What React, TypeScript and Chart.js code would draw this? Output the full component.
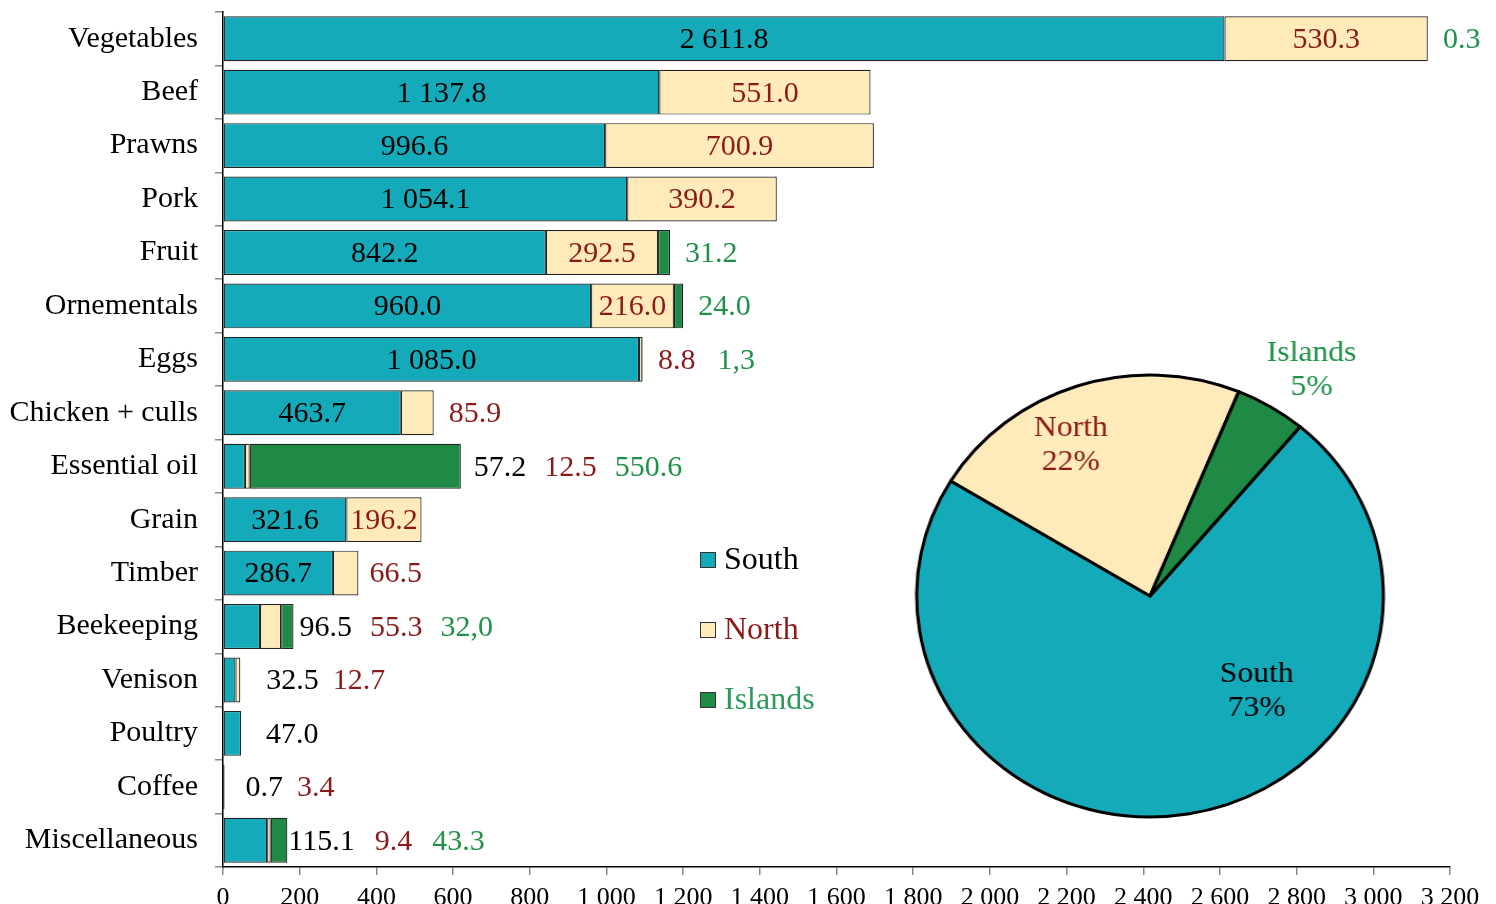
import React, { useEffect, useRef } from 'react';
import { Chart, registerables } from 'chart.js';

Chart.register(...registerables);

// ---------- DATA ----------
const categories = [
  'Vegetables', 'Beef', 'Prawns', 'Pork', 'Fruit', 'Ornementals', 'Eggs',
  'Chicken + culls', 'Essential oil', 'Grain', 'Timber', 'Beekeeping',
  'Venison', 'Poultry', 'Coffee', 'Miscellaneous',
];
const southValues = [2611.8, 1137.8, 996.6, 1054.1, 842.2, 960.0, 1085.0, 463.7, 57.2, 321.6, 286.7, 96.5, 32.5, 47.0, 0.7, 115.1];
const northValues: (number | null)[] = [530.3, 551.0, 700.9, 390.2, 292.5, 216.0, 8.8, 85.9, 12.5, 196.2, 66.5, 55.3, 12.7, null, 3.4, 9.4];
const islandsValues: (number | null)[] = [0.3, null, null, null, 31.2, 24.0, 1.3, null, 550.6, null, null, 32.0, null, null, null, 43.3];
const seriesNames = ['South', 'North', 'Islands'];
// labels printed with a decimal comma in the original
const islandsCommaLabels = ['Eggs', 'Beekeeping'];
const xMin = 0;
const xMax = 3200;
const xStep = 200;

// ---------- STYLE ----------
const FONT = "'Liberation Serif', 'Times New Roman', serif";
const fillColors = ['#14AAB9', '#FFEBB9', '#1E8A46'];
const textColors = ['#000000', '#8B1A1A', '#1F9148'];
const legendTextColors = ['#000000', '#8B1A1A', '#2E9B5E'];
// pixel gap between bar end and first outside label (style only)
const outsideStartGap: Record<string, number> = {
  Beekeeping: 6, Venison: 26, Poultry: 25, Coffee: 21, Miscellaneous: 1, Timber: 11, 'Essential oil': 13,
};
const outsideGap: Record<string, number> = { Miscellaneous: 20, Eggs: 22, Venison: 14, Coffee: 14 };

function fmt(v: number, comma = false): string {
  const [intPart, dec] = v.toFixed(1).split('.');
  const withSpaces = intPart.replace(/\B(?=(\d{3})+(?!\d))/g, ' ');
  return withSpaces + (comma ? ',' : '.') + dec;
}

const seriesData = [southValues, northValues, islandsValues];

const valueLabelPlugin = {
  id: 'valueLabels',
  afterDatasetsDraw(chart: any) {
    const ctx = chart.ctx;
    ctx.save();
    ctx.font = `30px ${FONT}`;
    ctx.textBaseline = 'middle';
    categories.forEach((cat, i) => {
      const START_GAP = outsideStartGap[cat] ?? 15;
      const GAP = outsideGap[cat] ?? 18;
      let barEnd = -Infinity;
      let y = 0;
      for (let s = 0; s < 3; s++) {
        const v = seriesData[s][i];
        if (v == null) continue;
        const el = chart.getDatasetMeta(s).data[i];
        barEnd = Math.max(barEnd, el.x, el.base);
        y = el.y;
      }
      let outside = false;
      let cursor = barEnd + START_GAP;
      for (let s = 0; s < 3; s++) {
        const v = seriesData[s][i];
        if (v == null) continue;
        const el = chart.getDatasetMeta(s).data[i];
        const text = fmt(v, s === 2 && islandsCommaLabels.includes(cat));
        const w = ctx.measureText(text).width;
        const segW = Math.abs(el.x - el.base);
        ctx.fillStyle = textColors[s];
        if (!outside && segW >= w) {
          ctx.textAlign = 'center';
          ctx.fillText(text, (el.x + el.base) / 2, el.y + 1.5);
        } else {
          outside = true;
          ctx.textAlign = 'left';
          ctx.fillText(text, cursor, y + 1.5);
          cursor += w + GAP;
        }
      }
    });
    ctx.restore();
  },
};

const legendPlugin = {
  id: 'customLegend',
  afterDraw(chart: any) {
    const ctx = chart.ctx;
    ctx.save();
    const x0 = 700;
    const ys = [560, 630, 700];
    ctx.font = `32px ${FONT}`;
    ctx.textBaseline = 'middle';
    ctx.textAlign = 'left';
    seriesNames.forEach((name, s) => {
      const y = ys[s];
      ctx.fillStyle = fillColors[s];
      ctx.fillRect(x0, y - 8, 16, 16);
      ctx.strokeStyle = '#333';
      ctx.lineWidth = 1;
      ctx.strokeRect(x0 + 0.5, y - 7.5, 15, 15);
      ctx.fillStyle = legendTextColors[s];
      ctx.fillText(name, x0 + 24, y + 1);
    });
    ctx.restore();
  },
};

// pie label offsets from centre (unstretched px) -- style only
const pieLabelOffsets = [
  { dx: 101, dy: 95 },
  { dx: -75, dy: -151 },
  { dx: 153, dy: -226 },
];

const pieLabelPlugin = {
  id: 'pieLabels',
  afterDraw(chart: any) {
    const ctx = chart.ctx;
    const meta = chart.getDatasetMeta(0);
    const data = chart.data.datasets[0].data as number[];
    const total = data.reduce((a, b) => a + b, 0);
    ctx.save();
    ctx.font = `30px ${FONT}`;
    ctx.textAlign = 'center';
    ctx.textBaseline = 'middle';
    meta.data.forEach((arc: any, k: number) => {
      const cx = arc.x + pieLabelOffsets[k].dx;
      const cy = arc.y + pieLabelOffsets[k].dy;
      ctx.fillStyle = textColors[k];
      ctx.fillText(seriesNames[k], cx, cy - 17);
      ctx.fillText(`${Math.round((data[k] / total) * 100)}%`, cx, cy + 17);
    });
    ctx.restore();
  },
};

export default function App() {
  const barRef = useRef<HTMLCanvasElement>(null);
  const pieRef = useRef<HTMLCanvasElement>(null);

  useEffect(() => {
    document.body.style.margin = '0';
    document.body.style.overflow = 'hidden';

    const bar = new Chart(barRef.current!, {
      type: 'bar',
      data: {
        labels: categories,
        datasets: seriesNames.map((name, s) => ({
          label: name,
          data: seriesData[s] as any,
          backgroundColor: fillColors[s],
          borderColor: '#222',
          borderWidth: 1.2,
          borderSkipped: false,
          barPercentage: 0.84,
          categoryPercentage: 1,
        })),
      },
      options: {
        indexAxis: 'y',
        animation: false,
        responsive: false,
        devicePixelRatio: 1,
        events: [],
        layout: { padding: { left: 0, right: 46, top: 12, bottom: 0 } },
        plugins: { legend: { display: false }, tooltip: { enabled: false } },
        scales: {
          x: {
            stacked: true,
            min: xMin,
            max: xMax,
            ticks: {
              stepSize: xStep,
              autoSkip: false,
              maxRotation: 0,
              padding: 8,
              color: '#000',
              font: { family: FONT, size: 26 },
              callback: (v: any) => String(v).replace(/\B(?=(\d{3})+(?!\d))/g, ' '),
            },
            grid: { drawOnChartArea: false, drawTicks: true, tickLength: 8, color: '#888', lineWidth: 1.5 },
            border: { color: '#000', width: 1.5 },
            afterFit: (scale: any) => {
              scale.height = 37;
              scale.paddingLeft = 0;
              scale.paddingRight = 0;
            },
          },
          y: {
            stacked: true,
            ticks: {
              padding: 17,
              color: '#000',
              font: { family: FONT, size: 30 },
              autoSkip: false,
            },
            grid: { offset: true, drawOnChartArea: false, drawTicks: true, tickLength: 8, color: '#888', lineWidth: 1.5 },
            border: { color: '#000', width: 1.5 },
            afterFit: (scale: any) => {
              scale.width = 223;
              scale.paddingTop = 0;
              scale.paddingBottom = 0;
            },
          },
        },
      },
      plugins: [valueLabelPlugin, legendPlugin],
    });

    const totals = seriesData.map((arr) => (arr as (number | null)[]).reduce((a: number, b) => a + (b ?? 0), 0));
    const pie = new Chart(pieRef.current!, {
      type: 'pie',
      data: {
        labels: seriesNames,
        datasets: [{
          data: totals,
          backgroundColor: fillColors,
          borderColor: '#000',
          borderWidth: 3,
          hoverBorderWidth: 3,
          borderJoinStyle: 'round',
        }],
      },
      options: {
        animation: false,
        responsive: false,
        devicePixelRatio: 1,
        events: [],
        rotation: 40,
        layout: { padding: { left: 37.5, right: 37.5, top: 53.5, bottom: 17.5 } },
        plugins: { legend: { display: false }, tooltip: { enabled: false } },
      },
      plugins: [pieLabelPlugin],
    });

    return () => {
      bar.destroy();
      pie.destroy();
    };
  }, []);

  return (
    <div style={{ position: 'absolute', left: 0, top: 0, width: 1496, height: 904, background: '#fff' }}>
      <canvas ref={barRef} width={1496} height={904} style={{ position: 'absolute', left: 0, top: 0 }} />
      <canvas
        ref={pieRef}
        width={520}
        height={516}
        style={{
          position: 'absolute',
          left: 890,
          top: 320,
          transformOrigin: '260px 276px',
          transform: 'scaleX(1.056)',
        }}
      />
    </div>
  );
}
